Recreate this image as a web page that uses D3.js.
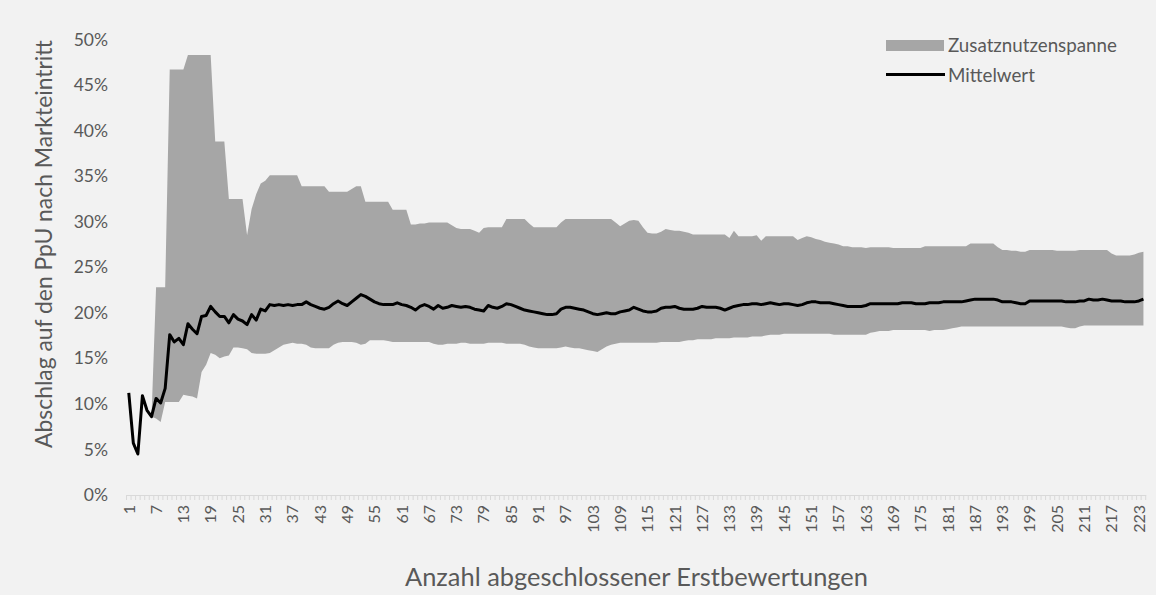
<!DOCTYPE html>
<html><head><meta charset="utf-8">
<script src="https://cdn.jsdelivr.net/npm/d3@7"></script>
<style>html,body{margin:0;padding:0;background:#f2f2f2;}svg{display:block;}</style>
</head><body>
<svg id="chart" width="1156" height="595"></svg>
<script>
// ---------- DATA ----------
const categories = d3.range(1, 225); // Anzahl abgeschlossener Erstbewertungen 1..224
const tickLabels = [1,7,13,19,25,31,37,43,49,55,61,67,73,79,85,91,97,103,109,115,121,127,133,139,145,151,157,163,169,175,181,187,193,199,205,211,217,223];
const yTickValues = [0,5,10,15,20,25,30,35,40,45,50];

// upper bound of Zusatznutzenspanne (%)
const upper = [
11.2,5.7,4.5,10.9,9.3,8.6,22.8,22.8,22.8,46.7,
46.7,46.7,46.7,48.3,48.3,48.3,48.3,48.3,48.3,38.8,
38.8,38.8,32.5,32.5,32.5,32.5,28.5,31.4,33.0,34.2,
34.5,35.1,35.1,35.1,35.1,35.1,35.1,35.1,33.9,33.9,
33.9,33.9,33.9,33.9,33.3,33.3,33.3,33.3,33.3,33.6,
33.9,33.9,32.2,32.2,32.2,32.2,32.2,32.2,31.3,31.3,
31.3,31.3,29.7,29.7,29.8,29.8,29.9,29.9,29.9,29.9,
29.9,29.6,29.3,29.2,29.2,29.2,29.0,28.8,29.3,29.4,
29.4,29.4,29.4,30.3,30.3,30.3,30.3,30.3,29.8,29.4,
29.4,29.4,29.4,29.4,29.4,29.9,30.3,30.3,30.3,30.3,
30.3,30.3,30.3,30.3,30.3,30.3,30.3,29.9,29.5,29.8,
30.1,30.2,30.1,29.4,28.8,28.7,28.7,28.9,29.2,29.1,
29.0,29.0,28.9,28.8,28.6,28.6,28.6,28.6,28.6,28.6,
28.6,28.6,28.2,29.0,28.4,28.4,28.4,28.4,28.5,27.9,
28.4,28.4,28.4,28.4,28.4,28.4,28.4,28.0,28.2,28.4,
28.3,28.1,28.0,27.8,27.7,27.6,27.5,27.3,27.3,27.2,
27.2,27.2,27.1,27.2,27.2,27.2,27.2,27.2,27.1,27.1,
27.1,27.1,27.1,27.1,27.1,27.3,27.3,27.3,27.3,27.3,
27.3,27.3,27.3,27.3,27.3,27.6,27.6,27.6,27.6,27.6,
27.6,27.2,26.9,26.9,26.8,26.8,26.7,26.7,26.9,26.9,
26.9,26.9,26.9,26.9,26.8,26.8,26.8,26.8,26.8,26.9,
26.9,26.9,26.9,26.9,26.9,26.9,26.5,26.3,26.3,26.3,
26.3,26.4,26.6,26.7];

// lower bound of Zusatznutzenspanne (%)
const lower = [
11.2,5.7,4.5,10.9,9.3,8.6,8.4,8.0,10.2,10.2,
10.2,10.2,11.0,10.9,10.8,10.6,13.5,14.3,15.6,15.4,
15.0,15.2,15.3,16.2,16.2,16.1,16.0,15.6,15.5,15.5,
15.5,15.6,15.9,16.2,16.5,16.6,16.7,16.6,16.6,16.5,
16.2,16.1,16.1,16.1,16.1,16.5,16.7,16.8,16.8,16.8,
16.7,16.5,16.6,17.0,17.0,17.0,17.0,16.9,16.8,16.8,
16.8,16.8,16.8,16.8,16.8,16.8,16.8,16.6,16.5,16.5,
16.6,16.6,16.6,16.7,16.7,16.6,16.6,16.6,16.6,16.7,
16.7,16.7,16.7,16.6,16.6,16.6,16.6,16.5,16.3,16.2,
16.1,16.1,16.1,16.1,16.1,16.2,16.3,16.2,16.1,16.1,
16.0,15.9,15.8,15.7,16.0,16.3,16.5,16.6,16.7,16.7,
16.7,16.7,16.7,16.7,16.7,16.7,16.7,16.8,16.8,16.8,
16.8,16.8,16.9,17.0,17.0,17.1,17.1,17.1,17.1,17.2,
17.2,17.2,17.2,17.3,17.3,17.3,17.3,17.4,17.4,17.4,
17.5,17.6,17.6,17.6,17.7,17.7,17.7,17.7,17.7,17.7,
17.7,17.7,17.7,17.7,17.7,17.6,17.6,17.6,17.6,17.6,
17.6,17.6,17.6,17.8,17.9,18.0,18.0,18.0,18.1,18.1,
18.1,18.1,18.1,18.1,18.1,18.1,18.0,18.1,18.1,18.1,
18.2,18.3,18.4,18.5,18.5,18.5,18.5,18.5,18.5,18.5,
18.5,18.5,18.5,18.5,18.5,18.5,18.5,18.5,18.5,18.5,
18.5,18.5,18.5,18.5,18.5,18.5,18.4,18.3,18.3,18.5,
18.6,18.6,18.6,18.6,18.6,18.6,18.6,18.6,18.6,18.6,
18.6,18.6,18.6,18.6];

// Mittelwert (%)
const mean = [
11.2,5.7,4.5,10.9,9.3,8.6,10.6,10.1,11.7,17.6,
16.8,17.2,16.5,18.8,18.2,17.7,19.6,19.7,20.7,20.1,
19.6,19.6,18.9,19.8,19.3,19.1,18.7,19.8,19.2,20.4,
20.2,20.9,20.8,20.9,20.8,20.9,20.8,20.9,20.9,21.2,
20.9,20.7,20.5,20.4,20.6,21.0,21.3,21.0,20.8,21.2,
21.6,22.0,21.8,21.5,21.2,21.0,20.9,20.9,20.9,21.1,
20.9,20.8,20.6,20.3,20.7,20.9,20.7,20.4,20.8,20.5,
20.6,20.8,20.7,20.6,20.7,20.6,20.4,20.3,20.2,20.8,
20.6,20.5,20.7,21.0,20.9,20.7,20.5,20.3,20.2,20.1,
20.0,19.9,19.8,19.8,19.9,20.4,20.6,20.6,20.5,20.4,
20.3,20.1,19.9,19.8,19.9,20.0,19.9,19.9,20.1,20.2,
20.3,20.6,20.4,20.2,20.1,20.1,20.2,20.5,20.6,20.6,
20.7,20.5,20.4,20.4,20.4,20.5,20.7,20.6,20.6,20.6,
20.5,20.3,20.5,20.7,20.8,20.9,20.9,21.0,21.0,20.9,
21.0,21.1,21.0,20.9,21.0,21.0,20.9,20.8,20.9,21.1,
21.2,21.2,21.1,21.1,21.1,21.0,20.9,20.8,20.7,20.7,
20.7,20.7,20.8,21.0,21.0,21.0,21.0,21.0,21.0,21.0,
21.1,21.1,21.1,21.0,21.0,21.0,21.1,21.1,21.1,21.2,
21.2,21.2,21.2,21.2,21.3,21.4,21.5,21.5,21.5,21.5,
21.5,21.4,21.2,21.2,21.2,21.1,21.0,21.0,21.3,21.3,
21.3,21.3,21.3,21.3,21.3,21.3,21.2,21.2,21.2,21.3,
21.3,21.5,21.4,21.4,21.5,21.4,21.3,21.3,21.3,21.2,
21.2,21.2,21.3,21.5];

const seriesNames = ["Zusatznutzenspanne", "Mittelwert"];
const xTitle = "Anzahl abgeschlossener Erstbewertungen";
const yTitle = "Abschlag auf den PpU nach Markteintritt";

// ---------- LAYOUT ----------
const FONT = "Lato, 'Open Sans', sans-serif";
const TEXT = "#595959";
const svg = d3.select("#chart");
svg.append("rect").attr("width",1156).attr("height",595).attr("fill","#f2f2f2");

const x = d3.scaleBand().domain(categories).range([126.5, 1145.7]).padding(0);
const cx = c => x(c) + x.bandwidth()/2;
const y = d3.scaleLinear().domain([0, 50]).range([495, 39.5]);

const rows = categories.map((c,i) => ({c, lo: lower[i], hi: upper[i], m: mean[i]}));

// band
svg.append("path").datum(rows)
  .attr("fill", "#a6a6a6")
  .attr("d", d3.area().x(d => cx(d.c)).y0(d => y(d.lo)).y1(d => y(d.hi)));

// x axis with tick marks at every category boundary
const xAxisG = svg.append("g").attr("transform","translate(0,495)");
xAxisG.call(d3.axisBottom(x).tickValues(categories).tickSize(0).tickFormat(""));
xAxisG.select(".domain").attr("stroke","#d9d9d9").attr("stroke-width",1.2);
xAxisG.selectAll(".tickmark").data(categories.concat([null])).enter().append("line")
  .attr("class","tickmark")
  .attr("x1", (d,i) => i < categories.length ? x(d) : x(categories[categories.length-1]) + x.bandwidth())
  .attr("x2", (d,i) => i < categories.length ? x(d) : x(categories[categories.length-1]) + x.bandwidth())
  .attr("y1", 0).attr("y2", 5).attr("stroke","#d9d9d9").attr("stroke-width",1);

// x tick labels (rotated)
svg.append("g").selectAll("text").data(tickLabels).enter().append("text")
  .attr("transform", d => `translate(${cx(d)},505) rotate(-90)`)
  .attr("text-anchor","end").attr("dy","0.36em")
  .attr("font-family",FONT).attr("font-size",16).attr("fill",TEXT)
  .text(d => d);

// y axis labels (no line)
const yAxisG = svg.append("g").attr("transform","translate(117,0)");
yAxisG.call(d3.axisLeft(y).tickValues(yTickValues).tickSize(0).tickPadding(9).tickFormat(d => d + "%"));
yAxisG.select(".domain").remove();
yAxisG.selectAll("text").attr("font-family",FONT).attr("font-size",17.5).attr("fill",TEXT);

// mean line
svg.append("path").datum(rows)
  .attr("fill","none").attr("stroke","#000").attr("stroke-width",3).attr("stroke-linejoin","round")
  .attr("d", d3.line().x(d => cx(d.c)).y(d => y(d.m)));

// titles
function fitText(sel, target){
  const n = sel.node(); const fs = parseFloat(sel.attr("font-size"));
  const len = n.getComputedTextLength();
  sel.attr("font-size", (fs*target/len).toFixed(2));
}
const xt = svg.append("text").attr("x",636.5).attr("y",577).attr("text-anchor","middle").attr("dy","0.35em")
  .attr("font-family",FONT).attr("font-size",18).attr("fill",TEXT).text(xTitle);
fitText(xt, 463);
const yt = svg.append("text").attr("transform","translate(44,244) rotate(-90)").attr("text-anchor","middle").attr("dy","0.35em")
  .attr("font-family",FONT).attr("font-size",18).attr("fill",TEXT).text(yTitle);
fitText(yt, 408);

// legend
const lg = svg.append("g");
lg.append("rect").attr("x",886).attr("y",40).attr("width",58).attr("height",11).attr("fill","#a6a6a6");
lg.append("line").attr("x1",886).attr("x2",945).attr("y1",74.5).attr("y2",74.5).attr("stroke","#000").attr("stroke-width",3);
const l1 = lg.append("text").attr("x",948).attr("y",45.5).attr("dy","0.35em").attr("font-family",FONT).attr("font-size",18).attr("fill",TEXT).text(seriesNames[0]);
fitText(l1, 169);
lg.append("text").attr("x",948).attr("y",75).attr("dy","0.35em").attr("font-family",FONT).attr("font-size",l1.attr("font-size")).attr("fill",TEXT).text(seriesNames[1]);
</script>
</body></html>
